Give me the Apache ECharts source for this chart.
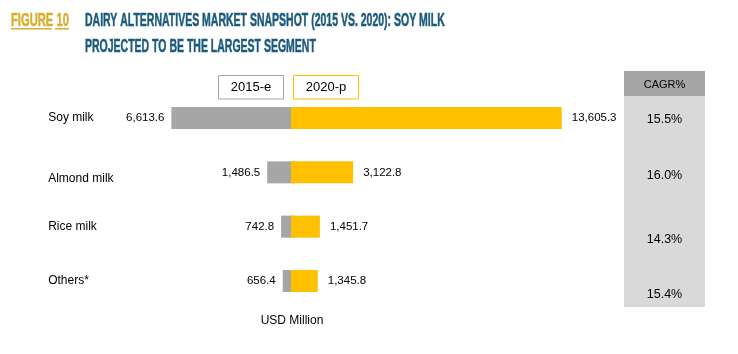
<!DOCTYPE html>
<html>
<head>
<meta charset="utf-8">
<script src="https://cdn.jsdelivr.net/npm/echarts@6/dist/echarts.min.js"></script>
<style>
html,body{margin:0;padding:0;background:#fff;}
#c{width:738px;height:354px;}
</style>
</head>
<body>
<div id="c"></div>
<script>
// ---- data ----
var categories = ['Soy milk', 'Almond milk', 'Rice milk', 'Others*'];
var values2015 = [6613.6, 1486.5, 742.8, 656.4];
var values2020 = [13605.3, 3122.8, 1451.7, 1345.8];
var cagr = [15.5, 16.0, 14.3, 15.4];
var seriesNames = ['2015-e', '2020-p'];
var unitLabel = 'USD Million';
var cagrHeader = 'CAGR%';

// ---- layout / style ----
var GRAY = '#A6A6A6', YELLOW = '#FFC000', TITLE_BLUE = '#1C5A7D', GOLD = '#D8AE2E';
var FONT = 'Liberation Sans, Arial, sans-serif';
var COND = 'Liberation Sans Narrow, Arial Narrow, sans-serif';
var cagrY = [120, 176, 240, 295];

function fmt(v) {
  return v.toLocaleString('en-US', {minimumFractionDigits: 1, maximumFractionDigits: 1});
}

var chart = echarts.init(document.getElementById('c'), null, {renderer: 'canvas'});

function titleText(txt, x, y, sx, color) {
  return {type: 'text', x: x, y: y, scaleX: sx,
    style: {text: txt, fill: color, stroke: color, lineWidth: 0.5, font: 'bold 17.5px ' + COND, textVerticalAlign: 'middle'}};
}

var graphics = [
  // Title
  titleText('FIGURE 10', 11, 21, 0.64, GOLD),
  {type: 'line', shape: {x1: 11, y1: 28.7, x2: 51.7, y2: 28.7}, style: {stroke: GOLD, lineWidth: 1.6}},
  {type: 'line', shape: {x1: 55, y1: 28.7, x2: 69, y2: 28.7}, style: {stroke: GOLD, lineWidth: 1.6}},
  titleText('DAIRY ALTERNATIVES MARKET SNAPSHOT (2015 VS. 2020): SOY MILK', 85, 21, 0.6, TITLE_BLUE),
  titleText('PROJECTED TO BE THE LARGEST SEGMENT', 85, 47.5, 0.6, TITLE_BLUE),
  // legend boxes
  {type: 'rect', shape: {x: 218.5, y: 75.5, width: 65, height: 23.5}, style: {fill: '#fff', stroke: GRAY, lineWidth: 1}},
  {type: 'text', x: 251, y: 87.5, style: {text: seriesNames[0], fill: '#000', font: '13px ' + FONT, textAlign: 'center', textVerticalAlign: 'middle'}},
  {type: 'rect', shape: {x: 293.5, y: 75.5, width: 65, height: 23.5}, style: {fill: '#fff', stroke: YELLOW, lineWidth: 1}},
  {type: 'text', x: 326, y: 87.5, style: {text: seriesNames[1], fill: '#000', font: '13px ' + FONT, textAlign: 'center', textVerticalAlign: 'middle'}},
  // CAGR panel
  {type: 'rect', shape: {x: 624, y: 71, width: 81, height: 25}, style: {fill: GRAY}},
  {type: 'rect', shape: {x: 624, y: 96, width: 81, height: 211}, style: {fill: '#D9D9D9'}},
  {type: 'text', x: 664.5, y: 85, style: {text: cagrHeader, fill: '#000', font: '11px ' + FONT, textAlign: 'center', textVerticalAlign: 'middle'}},
  // unit label
  {type: 'text', x: 292, y: 321, style: {text: unitLabel, fill: '#000', font: '12px ' + FONT, textAlign: 'center', textVerticalAlign: 'middle'}}
];
cagr.forEach(function (v, i) {
  graphics.push({type: 'text', x: 664.5, y: cagrY[i], style: {text: v.toFixed(1) + '%', fill: '#000', font: '12.5px ' + FONT, textAlign: 'center', textVerticalAlign: 'middle'}});
});

var option = {
  animation: false,
  backgroundColor: '#fff',
  textStyle: {fontFamily: FONT},
  grid: [
    {left: 164.2, width: 130.8, top: 90.85, height: 217.3},
    {left: 291, width: 278.6, top: 90.85, height: 217.3}
  ],
  xAxis: [
    {gridIndex: 0, type: 'value', min: 0, max: 7000, inverse: true, show: false},
    {gridIndex: 1, type: 'value', min: 0, max: 14000, show: false}
  ],
  yAxis: [
    {gridIndex: 0, type: 'category', data: categories, inverse: true,
     axisLine: {show: false}, axisTick: {show: false}, splitLine: {show: false},
     axisLabel: {align: 'left', margin: 116, color: '#000', fontSize: 12, fontFamily: FONT,
       formatter: function (v) { return v === 'Almond milk' ? '{a|' + v + '}' : v; },
       rich: {a: {fontSize: 12, color: '#000', fontFamily: FONT, padding: [12, 0, 0, 0]}}}},
    {gridIndex: 1, type: 'category', data: categories, inverse: true, show: false}
  ],
  series: [
    {name: seriesNames[0], type: 'bar', xAxisIndex: 0, yAxisIndex: 0, data: values2015, barWidth: 22, z: 2,
     itemStyle: {color: GRAY},
     label: {show: true, position: 'left', distance: 7, color: '#000', fontSize: 11.5, fontFamily: FONT,
       formatter: function (p) { return fmt(p.value); }}},
    {name: seriesNames[1], type: 'bar', xAxisIndex: 1, yAxisIndex: 1, data: values2020, barWidth: 22, z: 3,
     itemStyle: {color: YELLOW},
     label: {show: true, position: 'right', distance: 10, color: '#000', fontSize: 11.5, fontFamily: FONT,
       formatter: function (p) { return fmt(p.value); }}}
  ],
  graphic: graphics
};
chart.setOption(option);
</script>
</body>
</html>
